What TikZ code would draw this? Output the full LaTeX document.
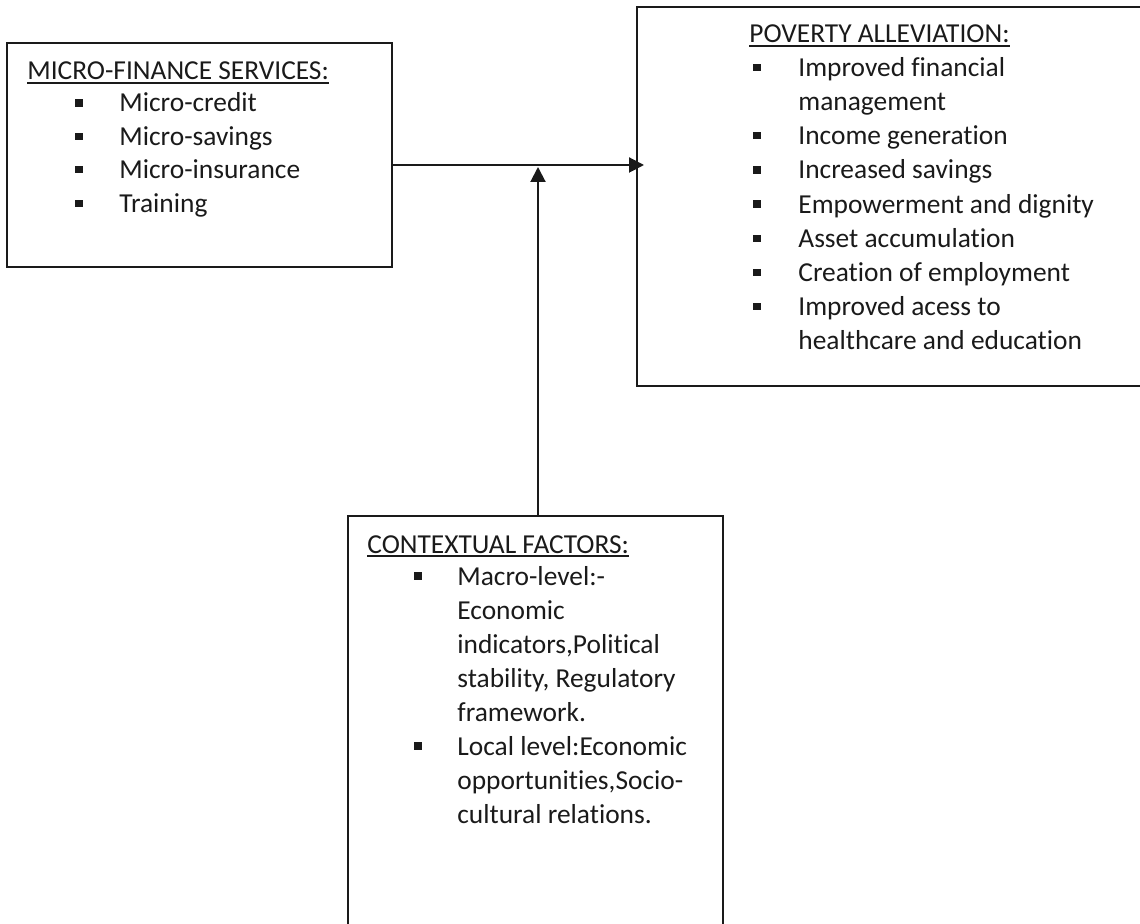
\documentclass[tikz,border=0pt]{standalone}
\usepackage{fontspec}
\setmainfont{Carlito}[Ligatures={NoCommon,NoRequired,NoContextual}]
\usetikzlibrary{arrows.meta,calc}
\newcommand\myul[1]{\setbox0\hbox{#1}\rlap{\rule[-1.8pt]{\wd0}{0.75pt}}\box0}
\definecolor{ink}{HTML}{1A1A1A}
\begin{document}
\begin{tikzpicture}[x=0.5pt,y=-0.5pt,
  box/.style={draw=ink, line width=1pt, rectangle, inner sep=0pt},
  txt/.style={anchor=base west, inner sep=0pt, text=ink, font=\fontsize{13.7pt}{17pt}\selectfont},
  bul/.style={fill=ink, draw=none, rectangle, minimum size=3.6pt, inner sep=0pt},
  arr/.style={draw=ink, line width=1pt, -{Triangle[length=7.5pt,width=7.5pt]}}]
\useasboundingbox (0,0) rectangle (1140,924);

% boxes
\node[box, minimum width=192.5pt, minimum height=112pt] (mfs) at (199.5,155) {};
\node[box, minimum width=261.5pt, minimum height=189.5pt] (pa) at (898.5,196.5) {};
\node[box, minimum width=187.5pt, minimum height=212pt] (cf) at (535.5,728) {};

% micro-finance services
\node[txt] (h1) at (27,80) {\myul{MICRO-FINANCE SERVICES:}};
\foreach \t [count=\i] in {Micro-credit, Micro-savings, Micro-insurance, Training} {
  \node[txt] (m\i) at (119,{112+33.4*(\i-1)}) {\t};
  \node[bul] (mb\i) at (79,{103+33.4*(\i-1)}) {};
}

% poverty alleviation
\node[txt] (h2) at (749,43) {\myul{POVERTY ALLEVIATION:}};
\node[txt] (p1) at (798,76.5) {Improved financial};
\node[txt] (p2) at (798,110.7) {management};
\node[txt] (p3) at (798,144.8) {Income generation};
\node[txt] (p4) at (798,179) {Increased savings};
\node[txt] (p5) at (798,213.1) {Empowerment and dignity};
\node[txt] (p6) at (798,247.3) {Asset accumulation};
\node[txt] (p7) at (798,281.4) {Creation of employment};
\node[txt] (p8) at (798,315.6) {Improved acess to};
\node[txt] (p9) at (798,349.7) {healthcare and education};
\node[bul] (pb1) at (757,67.5) {};
\node[bul] (pb3) at (757,135.8) {};
\node[bul] (pb4) at (757,170) {};
\node[bul] (pb5) at (757,204.1) {};
\node[bul] (pb6) at (757,238.3) {};
\node[bul] (pb7) at (757,272.4) {};
\node[bul] (pb8) at (757,306.6) {};

% contextual factors
\node[txt] (h3) at (367,553) {\myul{CONTEXTUAL FACTORS:}};
\node[txt] (c1) at (457,585) {Macro-level:-};
\node[txt] (c2) at (457,619) {Economic};
\node[txt] (c3) at (457,653) {indicators,Political};
\node[txt] (c4) at (457,687) {stability, Regulatory};
\node[txt] (c5) at (457,721) {framework.};
\node[txt] (c6) at (457,755) {Local level:Economic};
\node[txt] (c7) at (457,789) {opportunities,Socio-};
\node[txt] (c8) at (457,823) {cultural relations.};
\node[bul] (cb1) at (418,576) {};
\node[bul] (cb6) at (418,746) {};

% connectors
\coordinate (j) at (538,165);
\draw[arr, shorten >=-4pt] (mfs.east |- j) -- (pa.west |- j);
\draw[arr, shorten >=1pt] (cf.north -| j) -- (j);
\end{tikzpicture}
\end{document}
